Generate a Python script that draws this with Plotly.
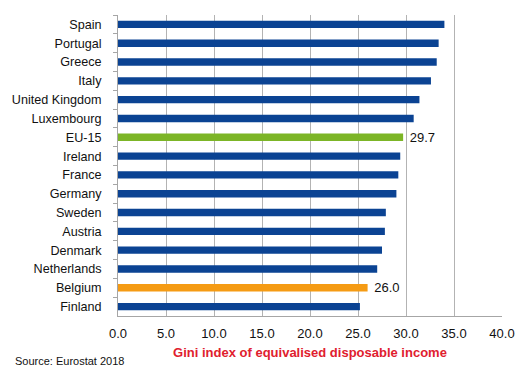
import plotly.graph_objects as go

countries = ["Spain", "Portugal", "Greece", "Italy", "United Kingdom", "Luxembourg",
             "EU-15", "Ireland", "France", "Germany", "Sweden", "Austria",
             "Denmark", "Netherlands", "Belgium", "Finland"]
gini = [34.0, 33.4, 33.2, 32.6, 31.4, 30.8, 29.7, 29.4, 29.2, 29.0, 27.9, 27.8,
        27.5, 27.0, 26.0, 25.2]
labelled = {"EU-15": "29.7", "Belgium": "26.0"}
tick_vals = [0, 5, 10, 15, 20, 25, 30, 35, 40]
tick_text = ["0.0", "5.0", "10.0", "15.0", "20.0", "25.0", "30.0", "35.0", "40.0"]

BLUE = "#0b4393"
GREEN = "#7cb526"
ORANGE = "#f59b14"
colors = [GREEN if c == "EU-15" else ORANGE if c == "Belgium" else BLUE for c in countries]
texts = [("\u00a0" + labelled[c]) if c in labelled else "" for c in countries]

fig = go.Figure(go.Bar(
    x=gini, y=countries, orientation="h",
    marker=dict(color=colors, line=dict(width=0)),
    text=texts, textposition="outside", cliponaxis=False, constraintext="none",
    textfont=dict(family="Liberation Sans, Arial", size=13, color="#111111"),
    hoverinfo="skip",
))

L, R, T, B = 116, 28, 15, 60
W, H = 530, 376

fig.update_layout(
    width=W, height=H,
    margin=dict(l=L, r=R, t=T, b=B),
    paper_bgcolor="white", plot_bgcolor="white",
    bargap=0.61, showlegend=False,
    font=dict(family="Liberation Sans, Arial", size=13, color="#111111"),
    xaxis=dict(range=[0, 40], tickvals=tick_vals, ticktext=tick_text,
               showgrid=True, gridcolor="#b3b3b3", gridwidth=1,
               zeroline=False, showline=True, linecolor="#a6a6a6",
               ticks="", ticklabelstandoff=5, tickfont=dict(size=13, color="#111111"),
               title=dict(text="<b>Gini index of equivalised disposable income</b>",
                          font=dict(size=13, color="#e0202e"), standoff=8)),
    yaxis=dict(autorange="reversed", showline=True, linecolor="#a6a6a6",
               ticks="outside", tickson="boundaries", ticklen=4, tickcolor="#a6a6a6",
               tickfont=dict(size=12.6, color="#111111"), ticklabelstandoff=13),
    annotations=[dict(text="Source: Eurostat 2018",
                      x=(10 - L) / (W - L - R), y=((H - B) - 361) / (H - T - B),
                      xref="paper", yref="paper",
                      showarrow=False, font=dict(size=11, color="#111111"),
                      xanchor="left", yanchor="middle")],
)

fig.write_html("out.html", config={"displayModeBar": False},
               post_script="document.body.style.margin='0';")
